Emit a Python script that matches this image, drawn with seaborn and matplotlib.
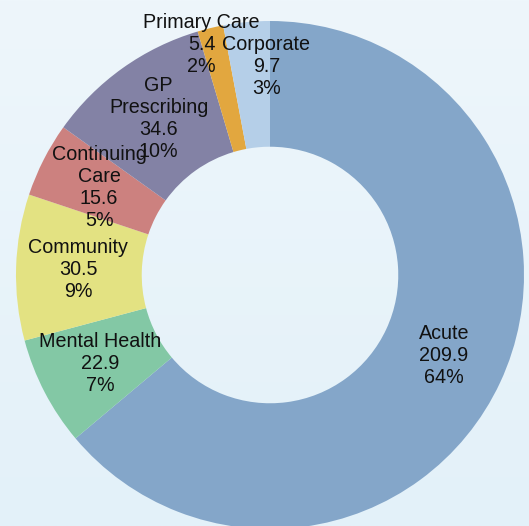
import numpy as np
import matplotlib
matplotlib.use("Agg")
import matplotlib.pyplot as plt
import seaborn as sns

# Budget split (in £m) by service area, drawn clockwise from 12 o'clock
categories = ["Acute", "Mental Health", "Community", "Continuing\nCare",
              "GP\nPrescribing", "Primary Care", "Corporate"]
values = [209.9, 22.9, 30.5, 15.6, 34.6, 5.4, 9.7]
shares = [64, 7, 9, 5, 10, 2, 3]  # published share of total, %
colors = ["#84a6c9", "#83c8a5", "#e3e282", "#cc817f",
          "#8382a5", "#e2a73f", "#b5cfe8"]

sns.set_theme(style="white")
plt.rcParams["font.family"] = ["Liberation Sans", "DejaVu Sans"]

fig = plt.figure(figsize=(5.29, 5.26), dpi=100)

# soft blue backdrop with a gentle vertical gradient
bg = fig.add_axes([0, 0, 1, 1])
grad = np.linspace(0, 1, 256).reshape(-1, 1)
top = np.array([238, 246, 251]) / 255
bottom = np.array([227, 241, 249]) / 255
img = top + (bottom - top) * grad[:, :, None]
bg.imshow(img, aspect="auto", extent=[0, 1, 0, 1])
bg.set_axis_off()

ax = fig.add_axes([16 / 529, -3 / 526, 508 / 529, 508 / 526])
ax.patch.set_alpha(0)
wedges, _ = ax.pie(values, colors=colors, startangle=90, counterclock=False,
                   radius=1.0, wedgeprops=dict(width=0.495, linewidth=0))
ax.set_xlim(-1, 1)
ax.set_ylim(-1, 1)
ax.set_axis_off()

# label placement: (radius, angle shift in degrees); thin top slices sit further out
label_pos = {"Corporate": (0.82, -4.3), "Primary Care": (0.945, 3.0)}
for w, cat, v, s in zip(wedges, categories, values, shares):
    r, dth = label_pos.get(cat, (0.755, 0.0))
    ang = np.deg2rad((w.theta1 + w.theta2) / 2 + dth)
    ax.text(r * np.cos(ang), r * np.sin(ang), f"{cat}\n{v:.1f}\n{s}%",
            ha="center", va="center", multialignment="center",
            fontsize=14.2, color="#111111", linespacing=1.2)

fig.savefig("out.png", dpi=100)
